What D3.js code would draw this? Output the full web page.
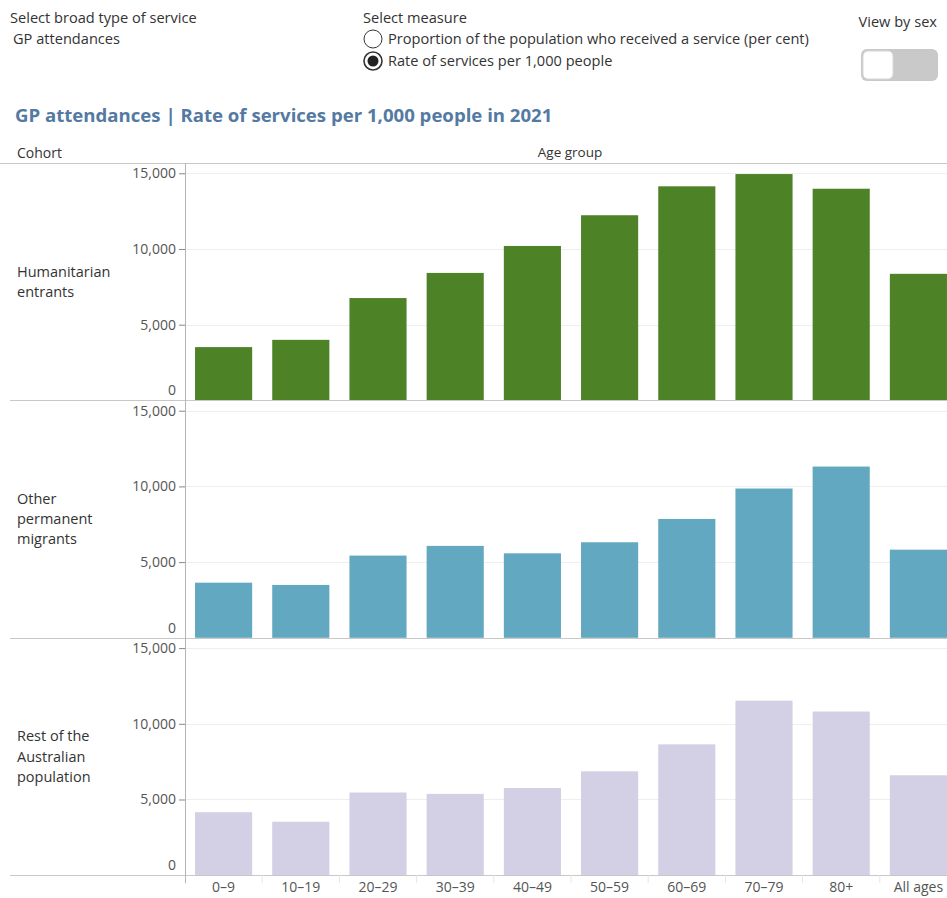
<!DOCTYPE html>
<html>
<head>
<meta charset="utf-8">
<script src="https://cdn.jsdelivr.net/npm/d3@7"></script>
<style>
  html, body { margin: 0; padding: 0; background: #fff; }
  svg { display: block; }
  text { font-family: "Open Sans", "Liberation Sans", sans-serif; }
</style>
</head>
<body>
<svg id="chart" width="947" height="898"></svg>
<script>
// Age groups along the x axis
const ageGroups = ["0–9", "10–19", "20–29", "30–39", "40–49", "50–59", "60–69", "70–79", "80+", "All ages"];

// Cohorts (one row of bars each)
const cohorts = ["Humanitarian entrants", "Other permanent migrants", "Rest of the Australian population"];
const cohortLines = [["Humanitarian", "entrants"], ["Other", "permanent", "migrants"], ["Rest of the", "Australian", "population"]];

// GP attendances, rate of services per 1,000 people, 2021
const humanitarian = [3520, 4000, 6760, 8420, 10200, 12230, 14140, 14950, 13980, 8360];
const otherMigrants = [3640, 3490, 5430, 6070, 5580, 6310, 7850, 9860, 11310, 5820];
const restOfPopulation = [4160, 3530, 5460, 5370, 5760, 6860, 8640, 11530, 10810, 6600];

const yTicks = [0, 5000, 10000, 15000];
const cohortColors = ["#4e8227", "#62a8c0", "#d3cfe4"];

const seriesByCohort = [humanitarian, otherMigrants, restOfPopulation];

const svg = d3.select("#chart");
const W = 947;

// ---- Filter controls ----
const ctl = svg.append("g").attr("fill", "#333").style("font-size", "14.6px");
ctl.append("text").attr("x", 10).attr("y", 23).text("Select broad type of service");
ctl.append("text").attr("x", 13).attr("y", 44).text("GP attendances");
ctl.append("text").attr("x", 363).attr("y", 23).text("Select measure");

const measures = ["Proportion of the population who received a service (per cent)", "Rate of services per 1,000 people"];
measures.forEach((m, i) => {
  const cy = 39 + i * 22;
  ctl.append("circle").attr("cx", 373).attr("cy", cy).attr("r", 9)
    .attr("fill", "#fff").attr("stroke", "#333").attr("stroke-width", i === 1 ? 1.6 : 1);
  if (i === 1) ctl.append("circle").attr("cx", 373).attr("cy", cy).attr("r", 5.5).attr("fill", "#222");
  ctl.append("text").attr("x", 388).attr("y", cy + 5).text(m);
});

ctl.append("text").attr("x", 937).attr("y", 27).attr("text-anchor", "end").text("View by sex");
svg.append("rect").attr("x", 861).attr("y", 49).attr("width", 77).attr("height", 32).attr("rx", 6)
  .attr("fill", "#c9c9c9");
svg.append("rect").attr("x", 863).attr("y", 51).attr("width", 30).attr("height", 28).attr("rx", 5)
  .attr("fill", "#fff").attr("stroke", "#d8d8d8");

// ---- Title ----
svg.append("text").attr("x", 15).attr("y", 122)
  .attr("fill", "#5479a2").style("font-size", "18.6px").style("font-weight", "bold")
  .text("GP attendances | Rate of services per 1,000 people in 2021");

// ---- Header row ----
svg.append("text").attr("x", 17).attr("y", 158).attr("fill", "#333").style("font-size", "14px").text("Cohort");
svg.append("text").attr("x", 570).attr("y", 157).attr("text-anchor", "middle").attr("fill", "#333")
  .style("font-size", "13.5px").text("Age group");
svg.append("line").attr("x1", 0).attr("x2", W).attr("y1", 163.5).attr("y2", 163.5).attr("stroke", "#c8c8c8");

// ---- Panels ----
const plotLeft = 185;
const panelTop = 163;
const panelH = 237.4;

const x = d3.scaleBand().domain(ageGroups).range([plotLeft, 957]).paddingInner(0.26).paddingOuter(0.13);

cohorts.forEach((c, i) => {
  const top = panelTop + i * panelH;
  const bottom = top + panelH;
  const y = d3.scaleLinear().domain([0, 15680]).range([bottom, top]);
  const g = svg.append("g");

  // gridlines
  g.selectAll("line.grid").data(yTicks.filter(t => t > 0)).join("line")
    .attr("x1", plotLeft).attr("x2", W)
    .attr("y1", d => Math.round(y(d)) + 0.5).attr("y2", d => Math.round(y(d)) + 0.5)
    .attr("stroke", "#eeeeee");

  // bars
  g.selectAll("rect.bar").data(seriesByCohort[i].map((v, k) => ({ age: ageGroups[k], v })))
    .join("rect")
    .attr("x", d => x(d.age)).attr("width", x.bandwidth())
    .attr("y", d => y(d.v)).attr("height", d => y(0) - y(d.v))
    .attr("fill", cohortColors[i]);

  // y axis
  const axis = d3.axisLeft(y).tickValues(yTicks).tickSize(6).tickPadding(3).tickFormat(d3.format(","));
  const ag = g.append("g").attr("transform", `translate(${plotLeft},0)`).call(axis);
  ag.select(".domain").remove();
  ag.selectAll(".tick line").attr("stroke", "#888");
  ag.selectAll(".tick text").attr("fill", "#555").style("font-size", "14px")
    .style("font-family", "'Open Sans', sans-serif");
  ag.selectAll(".tick").filter(d => d === 0).select("line").remove();
  ag.selectAll(".tick").filter(d => d === 0).select("text").attr("dy", "-0.4em");

  // row label
  const lines = cohortLines[i];
  const midY = top + panelH / 2;
  g.append("text").attr("fill", "#333").style("font-size", "14.5px")
    .selectAll("tspan").data(lines).join("tspan")
    .attr("x", 17).attr("y", (d, k) => midY + (k - (lines.length - 1) / 2) * 20.3 + 5)
    .text(d => d);

  // row separator / baseline
  g.append("line").attr("x1", 10).attr("x2", W).attr("y1", Math.round(bottom) + 0.5).attr("y2", Math.round(bottom) + 0.5)
    .attr("stroke", "#c8c8c8");
});

// vertical axis rule
svg.append("line").attr("x1", plotLeft + 0.5).attr("x2", plotLeft + 0.5).attr("y1", panelTop)
  .attr("y2", panelTop + 3 * panelH + 8).attr("stroke", "#b4b4b4");

// ---- x axis labels ----
const baseY = panelTop + 3 * panelH;
const xa = svg.append("g").attr("transform", `translate(0,${Math.round(baseY)})`)
  .call(d3.axisBottom(x).tickSize(0).tickPadding(7));
xa.select(".domain").remove();
xa.selectAll(".tick text").attr("fill", "#555").style("font-size", "14px")
  .style("font-family", "'Open Sans', sans-serif");

// faint band dividers under the baseline
const dividers = ageGroups.slice(1).map(a => x(a) - x.step() * x.paddingInner() / 2);
svg.append("g").selectAll("line").data(dividers).join("line")
  .attr("x1", d => d).attr("x2", d => d)
  .attr("y1", baseY).attr("y2", baseY + 8).attr("stroke", "#e6e6e6");
</script>
</body>
</html>
